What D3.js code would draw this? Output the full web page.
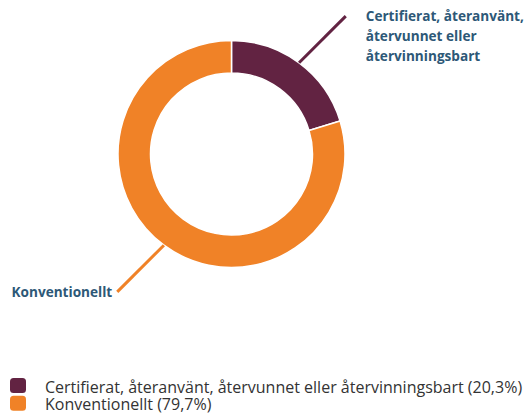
<!DOCTYPE html>
<html>
<head>
<meta charset="utf-8">
<script src="https://d3js.org/d3.v7.min.js"></script>
<style>
  body { margin: 0; background: #fff; font-family: "Open Sans", sans-serif; }
</style>
</head>
<body>
<div id="chart"></div>
<script>

var categories = ["Certifierat, återanvänt, återvunnet eller återvinningsbart", "Konventionellt"];
var values = [20.3, 79.7];
var valueLabels = ["20,3%", "79,7%"];
var calloutLines = [["Certifierat, återanvänt,", "återvunnet eller", "återvinningsbart"], ["Konventionellt"]];
var colors = ["#622342", "#f08227"];

var width = 528, height = 416;
var cx = 231.5, cy = 154,
    outerR = 113.5, innerR = 81;

var svg = d3.select("#chart")
  .append("svg")
    .attr("width", width)
    .attr("height", height);

var g = svg.append("g")
  .attr("transform", "translate(" + cx + "," + cy + ")");

var pie = d3.pie().sort(null).value(function(d) { return d; });
var arcs = pie(values);

var arc = d3.arc().innerRadius(innerR).outerRadius(outerR);
var edge = d3.arc().innerRadius(outerR).outerRadius(outerR);

g.selectAll("path.slice")
  .data(arcs)
  .enter()
  .append("path")
    .attr("class", "slice")
    .attr("d", arc)
    .attr("fill", function(d, i) { return colors[i]; })
    .attr("stroke", "#fff")
    .attr("stroke-width", 1.5);

// leader lines leave the ring at each slice's middle angle, at 45 degrees
var lineLen = 66;
arcs.forEach(function(d, i) {
  var p = edge.centroid(d);
  var sx = p[0] >= 0 ? 1 : -1, sy = p[1] >= 0 ? 1 : -1;
  var e = [p[0] + sx * lineLen / Math.SQRT2, p[1] + sy * lineLen / Math.SQRT2];
  g.append("line")
    .attr("x1", p[0]).attr("y1", p[1])
    .attr("x2", e[0]).attr("y2", e[1])
    .attr("stroke", colors[i])
    .attr("stroke-width", 3);

  var tx = sx > 0 ? e[0] + 20 : e[0] - 5;
  var t = g.append("text")
    .attr("x", tx)
    .attr("y", e[1] + 5)
    .attr("text-anchor", sx > 0 ? "start" : "end")
    .style("font-size", "13.6px")
    .style("font-weight", "bold")
    .style("fill", "#2d5877");
  t.selectAll("tspan")
    .data(calloutLines[i])
    .enter()
    .append("tspan")
      .attr("x", tx)
      .attr("dy", function(s, j) { return j ? 20 : 0; })
      .text(function(s) { return s; });
});

// legend
var legend = svg.append("g")
  .attr("transform", "translate(10,378)");

var item = legend.selectAll("g")
  .data(categories)
  .enter()
  .append("g")
    .attr("transform", function(d, i) { return "translate(0," + (i * 17.8) + ")"; });

item.append("rect")
  .attr("width", 16)
  .attr("height", 15)
  .attr("rx", 3.5)
  .attr("fill", function(d, i) { return colors[i]; });

item.append("text")
  .attr("x", 35)
  .attr("y", 14.5)
  .style("font-size", "16px")
  .style("fill", "#333")
  .text(function(d, i) { return d + " (" + valueLabels[i] + ")"; });

</script>
</body>
</html>
